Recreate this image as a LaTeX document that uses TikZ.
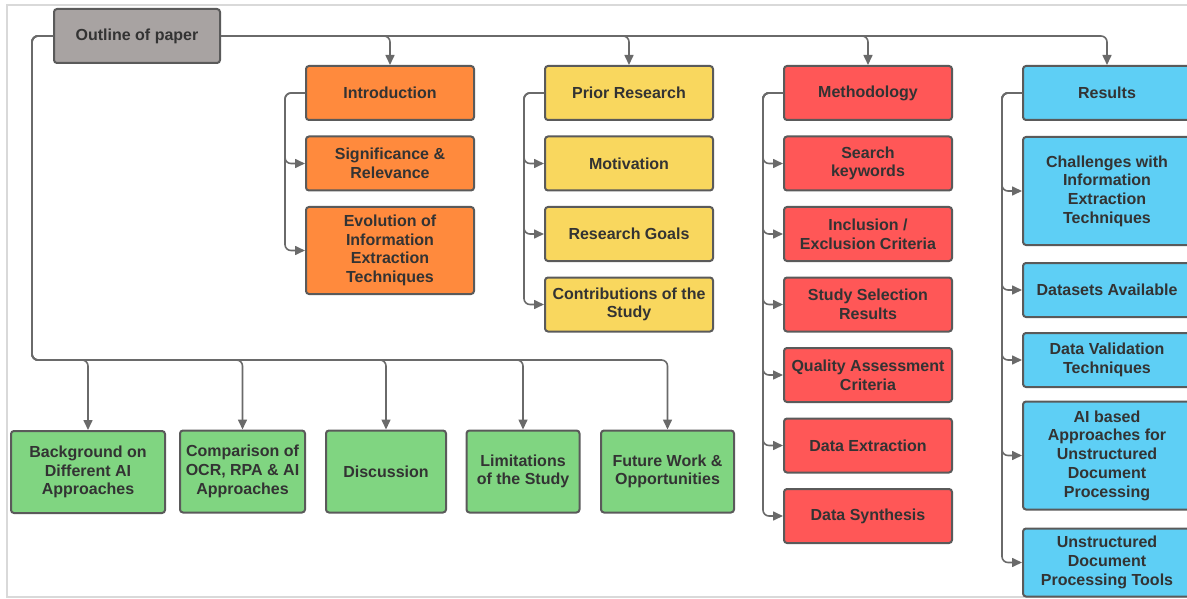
\documentclass[tikz,border=0pt]{standalone}
\usepackage{fontspec}
\setmainfont{Liberation Sans}
\usetikzlibrary{positioning,arrows.meta}

\definecolor{boxline}{HTML}{5A5A5A}
\definecolor{linkcol}{HTML}{6A6A6A}
\definecolor{txtcol}{HTML}{333333}
\definecolor{framecol}{HTML}{D9D9D9}
\definecolor{grayfill}{HTML}{A8A3A2}
\definecolor{orfill}{HTML}{FF8A3D}
\definecolor{yefill}{HTML}{F9D75E}
\definecolor{refill}{HTML}{FF5757}
\definecolor{blfill}{HTML}{5ECFF5}
\definecolor{grfill}{HTML}{80D581}

\tikzset{
  pbox/.style={shape=rectangle,draw=boxline,line width=2pt,rounded corners=3pt,
    align=center,text=txtcol,inner sep=2pt,
    font=\bfseries\fontsize{16}{18.7}\selectfont,
    minimum width=168pt,minimum height=54pt},
  outbox/.style={pbox,fill=grayfill},
  orbox/.style={pbox,fill=orfill},
  yebox/.style={pbox,fill=yefill},
  rebox/.style={pbox,fill=refill},
  blbox/.style={pbox,fill=blfill},
  grbox/.style={pbox,fill=grfill,minimum height=82pt},
  link/.style={draw=linkcol,line width=1.6pt,rounded corners=6pt,
    -{Triangle[length=10pt,width=9pt]}},
}

\begin{document}
\begin{tikzpicture}[x=1pt,y=-1pt]
\clip (0,0) rectangle (1187,599);
\draw[framecol,line width=1.5pt] (7,5) rectangle (1200,597);

\node[outbox,minimum width=166pt] (outline) at (137,36) {Outline of paper};

% introduction column
\node[orbox] (intro) at (390,93) {Introduction};
\node[orbox,below=14.5pt of intro] (sig) {Significance \&\\Relevance};
\node[orbox,below=14.5pt of sig,minimum height=87pt] (evo) {Evolution of\\Information\\Extraction\\Techniques};

% prior research column
\node[yebox] (prior) at (629,93) {Prior Research};
\node[yebox,below=14.5pt of prior] (motiv) {Motivation};
\node[yebox,below=14.5pt of motiv] (goals) {Research Goals};
\node[yebox,below=14.5pt of goals] (contrib) {Contributions of the\\Study};

% methodology column
\node[rebox] (meth) at (868,93) {Methodology};
\node[rebox,below=14.5pt of meth] (search) {Search\\keywords};
\node[rebox,below=14.5pt of search] (incl) {Inclusion /\\Exclusion Criteria};
\node[rebox,below=14.5pt of incl] (select) {Study Selection\\Results};
\node[rebox,below=14.5pt of select] (quality) {Quality Assessment\\Criteria};
\node[rebox,below=14.5pt of quality] (extract) {Data Extraction};
\node[rebox,below=14.5pt of extract] (synth) {Data Synthesis};

% results column
\node[blbox] (res) at (1107,93) {Results};
\node[blbox,below=15pt of res,minimum height=108pt] (chal) {Challenges with\\Information\\Extraction\\Techniques};
\node[blbox,below=16pt of chal] (datasets) {Datasets Available};
\node[blbox,below=14pt of datasets] (valid) {Data Validation\\Techniques};
\node[blbox,below=12.5pt of valid,minimum height=108pt] (aibased) {AI based\\Approaches for\\Unstructured\\Document\\Processing};
\node[blbox,below=17pt of aibased,minimum height=68pt] (tools) {Unstructured\\Document\\Processing Tools};

% bottom row
\node[grbox,minimum width=154pt] (backgr) at (88,472) {Background on\\Different AI\\Approaches};
\node[grbox,minimum width=125pt] (compar) at (242.5,471.5) {Comparison of\\OCR, RPA \& AI\\Approaches};
\node[grbox,minimum width=120pt] (discuss) at (386,471.5) {Discussion};
\node[grbox,minimum width=113pt] (limit) at (523,471.5) {Limitations\\of the Study};
\node[grbox,minimum width=133pt] (future) at (667.5,471.5) {Future Work \&\\Opportunities};

% links from the outline
\draw[link] (outline.east) -| (intro.north);
\draw[link] (outline.east) -| (prior.north);
\draw[link] (outline.east) -| (meth.north);
\draw[link] (outline.east) -| (res.north);

\coordinate (busL) at (32,360);
\draw[link] (outline.west) -| (busL) -| (backgr.north);
\draw[link] (outline.west) -| (busL) -| (compar.north);
\draw[link] (outline.west) -| (busL) -| (discuss.north);
\draw[link] (outline.west) -| (busL) -| (limit.north);
\draw[link] (outline.west) -| (busL) -| (future.north);

% links inside the columns
\foreach \sub in {sig,evo}
  \draw[link] (intro.west) -- ++(-20,0) |- (\sub.west);
\foreach \sub in {motiv,goals,contrib}
  \draw[link] (prior.west) -- ++(-20,0) |- (\sub.west);
\foreach \sub in {search,incl,select,quality,extract,synth}
  \draw[link] (meth.west) -- ++(-20,0) |- (\sub.west);
\foreach \sub in {chal,datasets,valid,aibased,tools}
  \draw[link] (res.west) -- ++(-20,0) |- (\sub.west);
\end{tikzpicture}
\end{document}
